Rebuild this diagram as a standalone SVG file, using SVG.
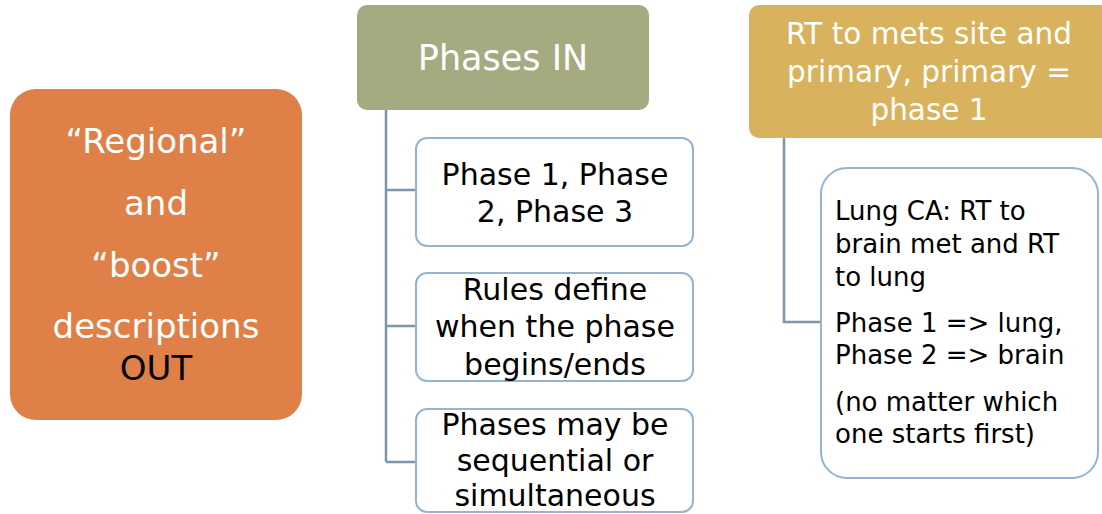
<svg xmlns="http://www.w3.org/2000/svg" width="1102" height="514" viewBox="0 0 1102 514">
<style>
.t{font-family:"DejaVu Sans",sans-serif;text-anchor:middle}
.w{fill:#ffffff}
.k{fill:#000000}
.sub{fill:#ffffff;stroke:#94B4D3;stroke-width:2}
.conn{fill:none;stroke:#7F95AC;stroke-width:2.5}
</style>
<rect width="1102" height="514" fill="#ffffff"/>
<g id="connectors">
<path class="conn" d="M386,110 V462 M386,190 H415 M386,326 H415 M386,462 H415"/>
<path class="conn" d="M784,138 V322 H820"/>
</g>
<g id="regional">
<rect x="10" y="89" width="292" height="331" rx="26" fill="#DE8047"/>
<text class="t w" font-size="34" x="156" y="153">“Regional”</text>
<text class="t w" font-size="34" x="156" y="215">and</text>
<text class="t w" font-size="34" x="156" y="277">“boost”</text>
<text class="t w" font-size="34" x="156" y="338">descriptions</text>
<text class="t k" font-size="34" x="156" y="380">OUT</text>
</g>
<g id="phases-in">
<rect x="357" y="5" width="292" height="105" rx="10" fill="#A5AA81"/>
<text class="t w" font-size="35" x="503" y="70">Phases IN</text>
</g>
<g id="phase123">
<rect class="sub" x="416" y="138" width="277" height="108" rx="11"/>
<text class="t k" font-size="30" x="555" y="185">Phase 1, Phase</text>
<text class="t k" font-size="30" x="555" y="222">2, Phase 3</text>
</g>
<g id="rules">
<rect class="sub" x="416" y="273" width="277" height="108" rx="11"/>
<text class="t k" font-size="30" x="555" y="300">Rules define</text>
<text class="t k" font-size="30" x="555" y="337">when the phase</text>
<text class="t k" font-size="30" x="555" y="375">begins/ends</text>
</g>
<g id="sequential">
<rect class="sub" x="416" y="409" width="277" height="103" rx="11"/>
<text class="t k" font-size="30" x="555" y="435">Phases may be</text>
<text class="t k" font-size="30" x="555" y="471">sequential or</text>
<text class="t k" font-size="30" x="555" y="506">simultaneous</text>
</g>
<g id="rt-mets">
<rect x="749" y="5" width="365" height="133" rx="10" fill="#D8B25C"/>
<text class="t w" font-size="29.5" x="929" y="44">RT to mets site and</text>
<text class="t w" font-size="29.5" x="929" y="82">primary, primary =</text>
<text class="t w" font-size="29.5" x="929" y="120">phase 1</text>
</g>
<g id="lung">
<rect class="sub" x="821" y="168" width="277" height="310" rx="26"/>
<g font-family="DejaVu Sans, sans-serif" font-size="26" fill="#000000">
<text x="835" y="220">Lung CA: RT to</text>
<text x="835" y="253">brain met and RT</text>
<text x="835" y="286">to lung</text>
<text x="835" y="332">Phase 1 =&gt; lung,</text>
<text x="835" y="364">Phase 2 =&gt; brain</text>
<text x="835" y="411">(no matter which</text>
<text x="835" y="443">one starts first)</text>
</g>
</g>
</svg>
